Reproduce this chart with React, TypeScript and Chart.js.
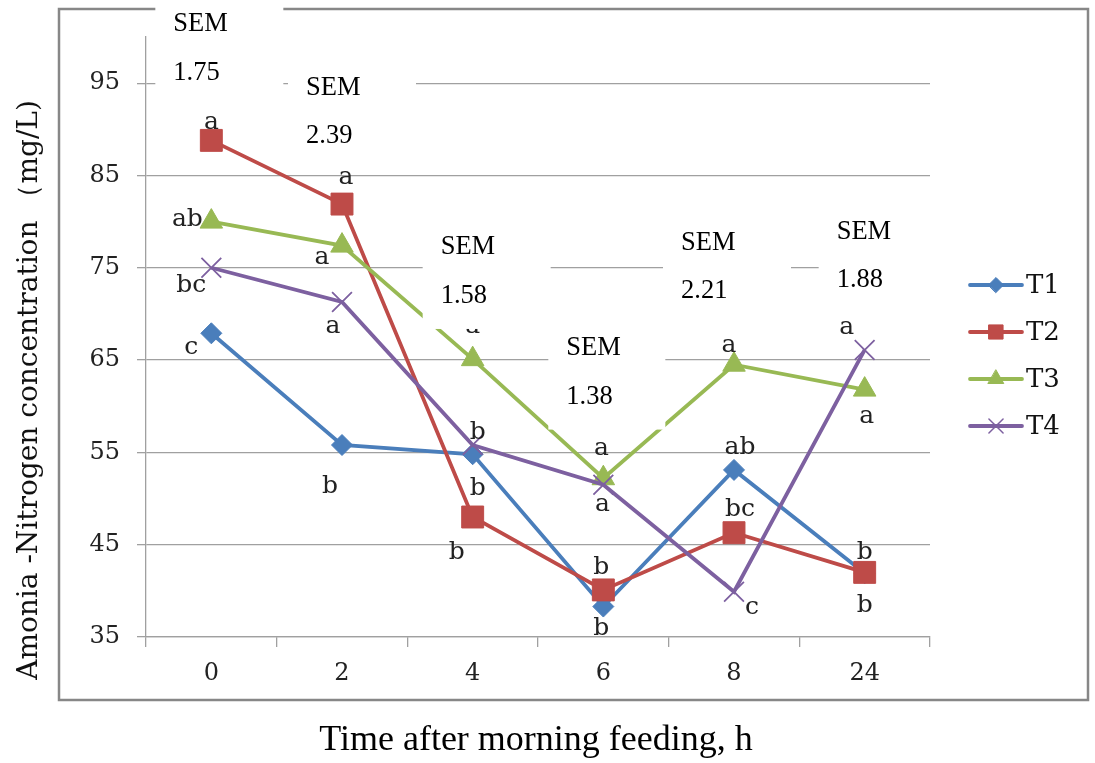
import React, { useEffect, useRef } from 'react';
import { Chart, registerables } from 'chart.js';
import { drawPoint } from 'chart.js/helpers';

Chart.register(...registerables);

// ---- data ----
const categories = ['0', '2', '4', '6', '8', '24'];
const seriesNames = ['T1', 'T2', 'T3', 'T4'];
const t1 = [67.9, 55.8, 54.8, 38.3, 53.1, 41.9];
const t2 = [88.8, 81.9, 48.0, 40.1, 46.3, 42.0];
const t3 = [80.0, 77.4, 65.1, 52.2, 64.5, 61.8];
const t4 = [75.0, 71.3, 55.8, 51.5, 39.9, 66.1];
const yTicks = [35, 45, 55, 65, 75, 85, 95];
const yMin = 35;
const yMax = 100;
const t1Letters = ['c', 'b', 'b', 'b', 'ab', 'b'];
const t2Letters = ['a', 'a', 'b', 'b', 'bc', 'b'];
const t3Letters = ['ab', 'a', 'a', 'a', 'a', 'a'];
const t4Letters = ['bc', 'a', 'b', 'a', 'c', 'a'];
const semValues = ['1.75', '2.39', '1.58', '1.38', '2.21', '1.88'];
const semLevels = [101.4, 94.5, 77.2, 66.3, 77.7, 78.9];
const xTitle = 'Time after morning feeding, h';
const yTitle = 'Amonia -Nitrogen concentration （mg/L)';

// ---- styles / placement ----
const colors = ['#4A7EBB', '#BE4B48', '#98B954', '#7D60A0'];
const pointStyles = ['rectRot', 'rect', 'triangle', 'crossRot'];
const pointRadii = [10.5, 15.5, 13, 14];
const legendRadii = [7.5, 10, 9, 10];
const letterOffsets = [
  [[-20, 14], [-12, 41], [5, 34], [-2, 22], [6, -22], [0, 32]],
  [[0, -18], [4, -27], [-16, 35], [-2, -22], [6, -23], [0, -20]],
  [[-24, -2], [-20, 12], [0, -33], [-2, -30], [-5, -19], [2, 27]],
  [[-20, 18], [-9, 25], [5, -13], [-1, 20], [18, 16], [-18, -22]],
];
const semDx = [-38, -36, -32, -37, -53, -28];
const semBoxW = [128, 128, 128, 117, 128, 128];
const gridColor = '#A0A0A0';

const allSeries = [t1, t2, t3, t4];
const allLetters = [t1Letters, t2Letters, t3Letters, t4Letters];

const decorPlugin = {
  id: 'decor',
  beforeDraw(chart: any) {
    const ctx = chart.ctx;
    ctx.save();
    ctx.fillStyle = '#ffffff';
    ctx.fillRect(0, 0, chart.width, chart.height);
    ctx.strokeStyle = '#878787';
    ctx.lineWidth = 2.5;
    ctx.strokeRect(59, 9, 1029, 691);
    ctx.restore();
  },
  afterDatasetsDraw(chart: any) {
    const ctx = chart.ctx;
    ctx.save();
    ctx.fillStyle = '#222222';
    ctx.font = '25px "DejaVu Serif"';
    ctx.textAlign = 'center';
    ctx.textBaseline = 'middle';
    allLetters.forEach((letters, i) => {
      const meta = chart.getDatasetMeta(i);
      letters.forEach((l, j) => {
        const el = meta.data[j];
        const [dx, dy] = letterOffsets[i][j];
        ctx.fillText(l, el.x + dx, el.y + dy);
      });
    });
    ctx.restore();
  },
  afterDraw(chart: any) {
    const ctx = chart.ctx;
    const xs = chart.scales.x;
    const ys = chart.scales.y;
    ctx.save();
    // SEM boxes
    semValues.forEach((v, i) => {
      const cx = xs.getPixelForValue(i);
      const semY = ys.getPixelForValue(semLevels[i]);
      const left = cx + semDx[i];
      const numY = semY + 48.5;
      const boxL = left - 18;
      const top = semY - 24;
      const bottom = numY + 33;
      ctx.fillStyle = '#ffffff';
      ctx.fillRect(boxL, top, semBoxW[i], bottom - top);
      ctx.fillStyle = '#000000';
      ctx.font = '26.5px "Liberation Serif"';
      ctx.textAlign = 'left';
      ctx.textBaseline = 'middle';
      ctx.fillText('SEM', left, semY);
      ctx.fillText(v, left, numY);
    });
    // legend
    seriesNames.forEach((name, i) => {
      const y = 285 + i * 47;
      ctx.strokeStyle = colors[i];
      ctx.lineWidth = 3.8;
      ctx.lineCap = 'round';
      ctx.beginPath();
      ctx.moveTo(970, y);
      ctx.lineTo(1022, y);
      ctx.stroke();
      ctx.fillStyle = colors[i];
      ctx.lineWidth = i === 3 ? 1.5 : 1;
      drawPoint(ctx, { pointStyle: pointStyles[i], radius: legendRadii[i], rotation: 0, borderWidth: i === 3 ? 1.5 : 1 } as any, 996, y);
      ctx.fillStyle = '#111111';
      ctx.font = '26px "DejaVu Serif"';
      ctx.textAlign = 'left';
      ctx.textBaseline = 'middle';
      ctx.fillText(name, 1026, y + 1);
    });
    // axis titles
    ctx.fillStyle = '#111111';
    ctx.font = '28px "DejaVu Serif"';
    ctx.textAlign = 'center';
    ctx.textBaseline = 'middle';
    ctx.save();
    ctx.translate(30, 390);
    ctx.rotate(-Math.PI / 2);
    ctx.fillText(yTitle, 0, 0);
    ctx.restore();
    ctx.font = '36px "Liberation Serif"';
    ctx.fillStyle = '#000000';
    ctx.fillText(xTitle, 536, 741);
    ctx.restore();
  },
};

export default function App() {
  const ref = useRef<HTMLCanvasElement>(null);
  useEffect(() => {
    const canvas = ref.current!;
    const chart = new Chart(canvas, {
      type: 'line',
      data: {
        labels: categories,
        datasets: allSeries.map((d, i) => ({
          label: seriesNames[i],
          data: d,
          borderColor: colors[i],
          backgroundColor: colors[i],
          pointBackgroundColor: colors[i],
          pointBorderColor: colors[i],
          borderWidth: 3.8,
          pointStyle: pointStyles[i] as any,
          pointRadius: pointRadii[i],
          pointBorderWidth: i === 3 ? 1.8 : 1,
          tension: 0,
          order: 4 - i,
        })),
      },
      options: {
        responsive: false,
        animation: false,
        devicePixelRatio: 1,
        layout: { padding: { left: 60, right: 165, top: 37, bottom: 66 } },
        plugins: { legend: { display: false }, tooltip: { enabled: false } },
        scales: {
          x: {
            type: 'category',
            offset: true,
            grid: { offset: true, drawOnChartArea: false, drawTicks: true, tickLength: 10, color: gridColor, lineWidth: 1.3 },
            border: { display: true, color: gridColor, width: 1.3 },
            ticks: { font: { family: 'DejaVu Serif', size: 24 }, color: '#222', padding: 12 },
            afterFit: (s: any) => { s.height = 60; },
          },
          y: {
            min: yMin,
            max: yMax,
            afterBuildTicks: (s: any) => { s.ticks = yTicks.map((v) => ({ value: v })); },
            grid: { color: gridColor, lineWidth: 1.3, tickLength: 9, drawTicks: true },
            border: { display: true, color: gridColor, width: 1.3 },
            ticks: { font: { family: 'DejaVu Serif', size: 24 }, color: '#222', padding: 17 },
            afterFit: (s: any) => { s.width = 86; },
          },
        },
      },
      plugins: [decorPlugin],
    });
    return () => chart.destroy();
  }, []);
  return (
    <div style={{ position: 'absolute', left: 0, top: 0, width: 1095, height: 763 }}>
      <canvas ref={ref} width={1095} height={763} style={{ width: 1095, height: 763 }} />
    </div>
  );
}
